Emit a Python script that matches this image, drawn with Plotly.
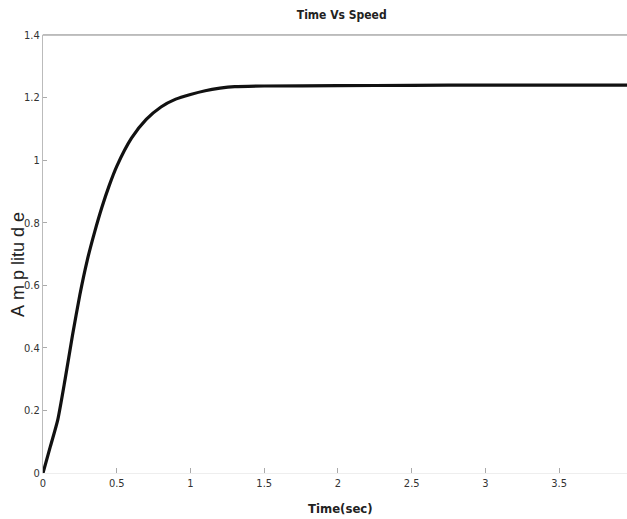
import plotly.graph_objects as go

time_sec = [0, 0.05, 0.1, 0.15, 0.2, 0.25, 0.3, 0.35, 0.4, 0.45, 0.5, 0.6, 0.7, 0.8,
            0.9, 1.0, 1.1, 1.2, 1.3, 1.5, 2.0, 2.5, 3.0, 3.5, 4.0]
amplitude = [0, 0.085, 0.17, 0.30, 0.44, 0.57, 0.68, 0.77, 0.85, 0.92, 0.98, 1.07,
             1.13, 1.17, 1.195, 1.21, 1.222, 1.23, 1.235, 1.237, 1.238, 1.239, 1.24,
             1.24, 1.24]

x_ticks = [0, 0.5, 1, 1.5, 2, 2.5, 3, 3.5]
x_tick_labels = ["0", "0.5", "1", "1.5", "2", "2.5", "3", "3.5"]
y_ticks = [0, 0.2, 0.4, 0.6, 0.8, 1, 1.2, 1.4]
y_tick_labels = ["0", "0.2", "0.4", "0.6", "0.8", "1", "1.2", "1.4"]

font_family = "DejaVu Sans Condensed, Liberation Sans Narrow, Arial Narrow, sans-serif"

W, H = 627, 519
ML, MR, MT, MB = 43, 0, 35, 46
PW, PH = W - ML - MR, H - MT - MB

fig = go.Figure()
fig.add_trace(go.Scatter(x=time_sec, y=amplitude, mode="lines",
                         line=dict(color="#111111", width=3.2, shape="spline", smoothing=0.6),
                         showlegend=False, hoverinfo="skip"))

fig.update_layout(
    width=W, height=H,
    margin=dict(l=ML, r=MR, t=MT, b=MB, autoexpand=False),
    paper_bgcolor="white", plot_bgcolor="white",
    title=dict(text="Time Vs Speed", x=0.545, xanchor="center",
               y=1 - 15 / H, yanchor="middle", yref="container",
               font=dict(family=font_family, size=12, color="#222222", weight="bold")),
    font=dict(family=font_family, color="#333333"),
    xaxis=dict(range=[0, 3.96], tickvals=x_ticks, ticktext=x_tick_labels, automargin=False,
               ticks="inside", ticklen=5, tickcolor="#aaaaaa", showgrid=False,
               zeroline=False, showline=True, linecolor="#eeeeee", linewidth=1, mirror=True,
               tickfont=dict(size=11, color="#333333")),
    yaxis=dict(range=[0, 1.4], tickvals=y_ticks, ticktext=y_tick_labels, automargin=False,
               ticks="inside", ticklen=4, tickcolor="#aaaaaa", showgrid=False,
               zeroline=False, showline=True, linecolor="#bbbbbb", linewidth=1, mirror=False,
               tickfont=dict(size=11, color="#333333")),
)

fig.add_shape(type="line", xref="paper", yref="paper", x0=0, x1=1, y0=1, y1=1,
              line=dict(color="#888888", width=1))

fig.add_annotation(text="Time(sec)", xref="paper", yref="paper",
                   x=(340 - ML) / PW, y=-(508 - (MT + PH)) / PH,
                   xanchor="center", yanchor="middle", showarrow=False,
                   font=dict(family=font_family, size=13, color="#222222", weight="bold"))
fig.add_annotation(text="A\u00a0m\u00a0p\u00a0litu\u00a0d\u00a0e", xref="paper", yref="paper",
                   x=-(ML - 18) / PW, y=((MT + PH) - 265) / PH, textangle=-90,
                   xanchor="center", yanchor="middle", showarrow=False,
                   font=dict(family="Liberation Sans, Arial, sans-serif", size=18, color="#222222"))

fig.write_html("out.html", config={"displayModeBar": False},
               post_script="document.body.style.margin='0';")
